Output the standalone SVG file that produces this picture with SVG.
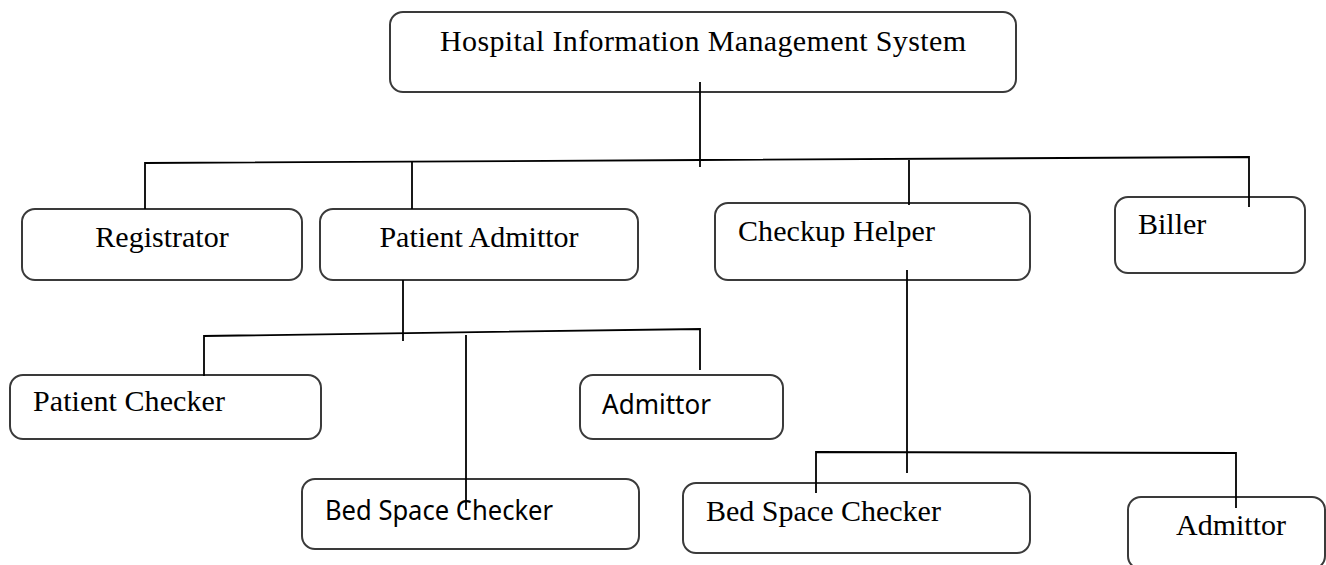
<svg xmlns="http://www.w3.org/2000/svg" width="1326" height="565" viewBox="0 0 1326 565">
<style>
.box{fill:#fff;stroke:#3a3a3a;stroke-width:2}
.ser{font-family:"Liberation Serif","Times New Roman",serif;font-size:30px;fill:#000}
.san{font-family:"Noto Sans","Liberation Sans",sans-serif;font-size:27px;fill:#000}
.ln{fill:none;stroke:#000;stroke-width:1.8}
</style>
<rect width="1326" height="565" fill="#fff"/>
<g id="n-root"><rect class="box" x="390" y="12" width="626" height="80" rx="13"/><text class="ser" x="703" y="51" text-anchor="middle" textLength="526">Hospital Information Management System</text></g>
<g id="n-registrator"><rect class="box" x="22" y="209" width="280" height="71" rx="13"/><text class="ser" x="162" y="247" text-anchor="middle">Registrator</text></g>
<g id="n-patient-admittor"><rect class="box" x="320" y="209" width="318" height="71" rx="13"/><text class="ser" x="479" y="247" text-anchor="middle">Patient Admittor</text></g>
<g id="n-checkup-helper"><rect class="box" x="715" y="203" width="315" height="77" rx="13"/><text class="ser" x="738" y="241" textLength="197">Checkup Helper</text></g>
<g id="n-biller"><rect class="box" x="1115" y="197" width="190" height="76" rx="13"/><text class="ser" x="1138" y="234">Biller</text></g>
<g id="n-patient-checker"><rect class="box" x="10" y="375" width="311" height="64" rx="13"/><text class="ser" x="33" y="411" textLength="192">Patient Checker</text></g>
<g id="n-admittor-1"><rect class="box" x="580" y="375" width="203" height="64" rx="13"/><text class="san" x="602" y="414" textLength="109" lengthAdjust="spacingAndGlyphs">Admittor</text></g>
<g id="n-bed-space-1"><rect class="box" x="302" y="479" width="337" height="70" rx="13"/><text class="san" x="325" y="520" textLength="228" lengthAdjust="spacingAndGlyphs">Bed Space Checker</text></g>
<g id="n-bed-space-2"><rect class="box" x="683" y="483" width="347" height="70" rx="13"/><text class="ser" x="706" y="521">Bed Space Checker</text></g>
<g id="n-admittor-2"><rect class="box" x="1128" y="497" width="197" height="72" rx="13"/><text class="ser" x="1176" y="535">Admittor</text></g>
<g id="connectors">
<line class="ln" x1="700" y1="82" x2="700" y2="167"/>
<polyline class="ln" points="145,209 145,163 700,160 1249,157 1249,207"/>
<line class="ln" x1="412" y1="162" x2="412" y2="209"/>
<line class="ln" x1="909" y1="160" x2="909" y2="205"/>
<line class="ln" x1="403" y1="280" x2="403" y2="341"/>
<polyline class="ln" points="204,376 204,336 700,329 700,370"/>
<line class="ln" x1="466" y1="335" x2="466" y2="510"/>
<line class="ln" x1="907" y1="270" x2="907" y2="473"/>
<polyline class="ln" points="816,493 816,452 1236,453 1236,508"/>
</g>
</svg>
